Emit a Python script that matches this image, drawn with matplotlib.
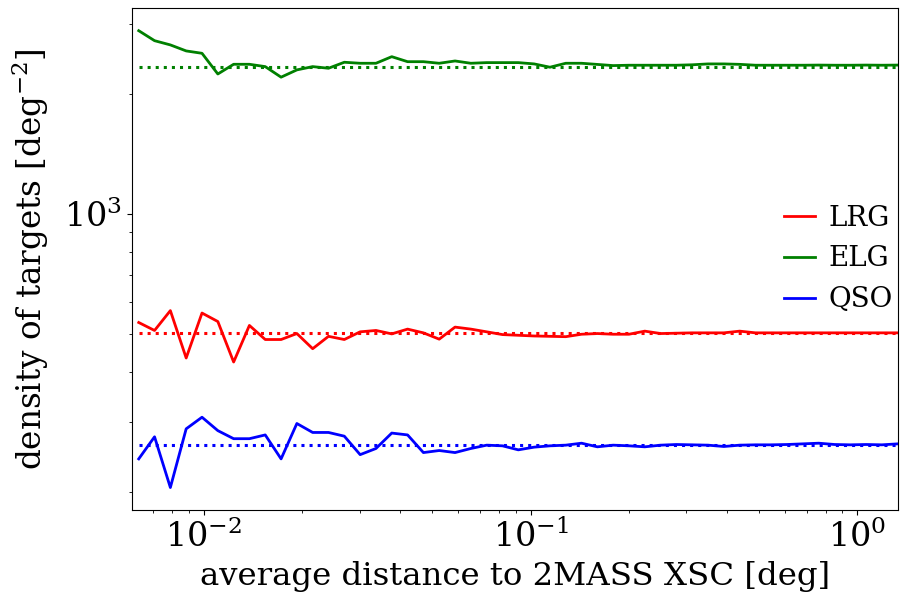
import matplotlib
matplotlib.use("Agg")
import matplotlib.pyplot as plt
import numpy as np

plt.rcParams['font.family'] = ['DejaVu Serif']
plt.rcParams['mathtext.fontset'] = 'dejavuserif'

dist = [0.006322, 0.007067, 0.007900, 0.008832, 0.009874, 0.01104, 0.01234, 0.01379,
        0.01542, 0.01724, 0.01927, 0.02154, 0.02408, 0.02692, 0.03010, 0.03365,
        0.03761, 0.04205, 0.04701, 0.05255, 0.05875, 0.06567, 0.07342, 0.08207,
        0.09175, 0.1026, 0.1147, 0.1282, 0.1433, 0.1602, 0.1791, 0.2002,
        0.2238, 0.2502, 0.2797, 0.3127, 0.3495, 0.3907, 0.4368, 0.4883,
        0.5458, 0.6102, 0.6822, 0.7626, 0.8525, 0.9526, 1.065, 1.190, 1.331]

lrg = [533, 509, 571, 434, 563, 536, 424, 524, 483, 483, 500, 458, 492, 483, 505, 509,
       499, 513, 502, 484, 519, 513, 505, 497, 495, 493, 492, 491, 498, 500, 498, 498,
       507, 500, 501, 502, 502, 502, 507, 502, 502, 502, 502, 502, 502, 502, 502, 502, 502]

elg = [2887, 2725, 2659, 2568, 2533, 2247, 2377, 2377, 2345, 2206, 2301, 2345, 2323, 2405,
       2391, 2391, 2484, 2413, 2413, 2391, 2423, 2391, 2400, 2400, 2400, 2382, 2337, 2391,
       2391, 2375, 2359, 2364, 2364, 2364, 2364, 2370, 2382, 2382, 2376, 2364, 2364, 2364,
       2364, 2366, 2364, 2364, 2366, 2364, 2366]

qso = [242, 275, 205, 288, 308, 285, 272, 272, 278, 242, 297, 282, 282, 276, 248, 257,
       281, 278, 251, 254, 251, 257, 262, 261, 255, 259, 261, 262, 265, 259.5, 262, 261,
       259.5, 262, 263, 262.5, 262, 260, 262, 262.5, 262.5, 263, 264, 265, 263, 262.5,
       263, 262.5, 264]

means = {'LRG': 501, 'ELG': 2345, 'QSO': 262}
names = ['LRG', 'ELG', 'QSO']
colors = ['red', 'green', 'blue']
series = [lrg, elg, qso]

fig = plt.figure(figsize=(9, 6), dpi=100)
ax = fig.add_axes([0.1467, 0.15, 0.8513, 0.8367])

for name, col, vals in zip(names, colors, series):
    ax.plot(dist, vals, color=col, lw=2, label=name)
    ax.plot([dist[0], dist[-1]], [means[name], means[name]], color=col, lw=2.2, ls=':')

ax.set_xscale('log')
ax.set_yscale('log')
ax.set_xlim(0.00603, 1.335)
ax.set_ylim(180, 3293)
ax.tick_params(labelsize=24)
ax.set_xlabel('average distance to 2MASS XSC [deg]', fontsize=23.3, labelpad=5)
ax.set_ylabel(r'density of targets [deg$^{-2}$]', fontsize=23.5, labelpad=10)
ax.legend(loc='center right', frameon=False, fontsize=20, handlelength=1.1,
          handletextpad=0.5, borderaxespad=0.0, borderpad=0.2)

fig.savefig('out.png', dpi=100)
